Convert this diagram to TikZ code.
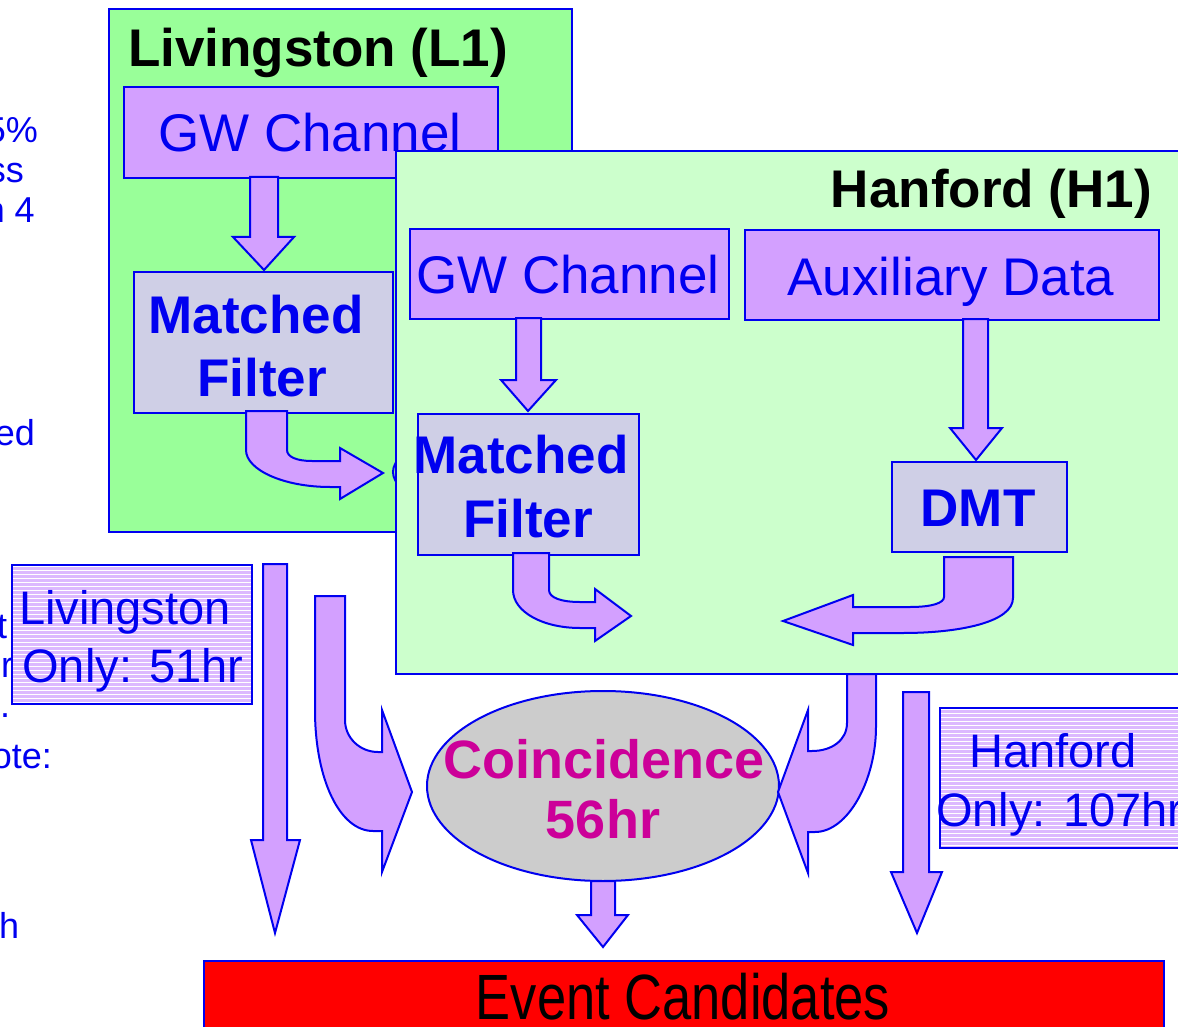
\documentclass[tikz,border=0pt]{standalone}
\usepackage{fontspec}
\setmainfont{Liberation Sans}
\usetikzlibrary{shapes.geometric}
\definecolor{lgreen}{RGB}{153,255,153}
\definecolor{pgreen}{RGB}{204,255,204}
\definecolor{lav}{RGB}{211,160,255}
\definecolor{mfgray}{RGB}{207,207,230}
\definecolor{hatchbg}{RGB}{220,185,255}
\definecolor{coingray}{RGB}{204,204,204}
\definecolor{magen}{RGB}{204,0,153}
\definecolor{myblue}{RGB}{0,0,240}
\tikzset{
  panel/.style={draw=myblue, line width=2pt, anchor=north west, inner sep=0pt},
  procbox/.style={draw=myblue, line width=2pt, fill=lav, anchor=north west, inner sep=0pt},
  mfbox/.style={draw=myblue, line width=2pt, fill=mfgray, anchor=north west, inner sep=0pt},
  blk/.style={fill=lav, draw=myblue, line width=2pt, line join=miter},
  frag/.style={text=myblue, font=\fontsize{36}{40}\selectfont, inner sep=0pt},
  reg/.style={text=myblue, font=\fontsize{53}{60}\selectfont, inner sep=0pt, anchor=base},
  bld/.style={text=myblue, font=\fontsize{53}{60}\selectfont\bfseries, inner sep=0pt, anchor=base},
  ttl/.style={text=black, font=\fontsize{53}{60}\selectfont\bfseries, inner sep=0pt},
  onlyt/.style={text=myblue, font=\fontsize{47}{52}\selectfont, inner sep=0pt, anchor=base},
}
\begin{document}
\begin{tikzpicture}[x=1pt,y=-1pt]
\clip (0,0) rectangle (1178,1027);
\fill[white] (0,0) rectangle (1178,1027);

% left text fragments
\node[frag, anchor=base east] (f1) at (38,143) {5\%};
\node[frag, anchor=base east] (f2) at (24,183) {ss};
\node[frag, anchor=base east] (f3) at (35,223) {n 4};
\node[frag, anchor=base east] (f4) at (35,445) {ed};
\node[frag, anchor=base west] (f5) at (-3,638) {t};
\node[frag, anchor=base west] (f6) at (1,677) {r};
\node[frag, anchor=base west] (f7) at (0,717) {.};
\node[frag, anchor=base east] (f8) at (52,768) {ote:};
\node[frag, anchor=base west] (f9) at (-1,938) {h};

% Livingston panel
\node[panel, fill=lgreen, minimum width=463pt, minimum height=523pt] (lpanel) at (108,8) {};
\node[ttl, anchor=base west] (ltitle) at (128,67) {Livingston (L1)};
\node[procbox, minimum width=374pt, minimum height=91pt] (lgw) at (123,86) {};
\node[reg] (lgwt) at (310,152) {GW Channel};
\draw[blk] (250,177) -- (278,177) -- (278,237) -- (294,237) -- (264,270) -- (233,237) -- (250,237) -- cycle;
\node[mfbox, minimum width=259pt, minimum height=141pt] (lmf) at (133,271) {};
\node[bld] (lmft1) at (256,333) {Matched};
\node[bld] (lmft2) at (262,396) {Filter};
\draw[blk] (246,411) -- (287,411) -- (287,450) .. controls (287,457) and (297,461) .. (312,461) -- (340,461) -- (340,448) -- (383,473) -- (340,499) -- (340,487) -- (330,487) .. controls (284,487) and (246,470) .. (246,450) -- cycle;
\node[ellipse, draw=myblue, line width=2pt, minimum width=60pt, minimum height=44pt] (lhid) at (423,472) {};

% Hanford panel
\node[panel, fill=pgreen, minimum width=800pt, minimum height=523pt] (hpanel) at (395,150) {};
\node[ttl, anchor=base east] (htitle) at (1152,208) {Hanford (H1)};
\node[procbox, minimum width=319pt, minimum height=90pt] (hgw) at (409,228) {};
\node[reg] (hgwt) at (568,293) {GW Channel};
\node[procbox, minimum width=414pt, minimum height=90pt] (haux) at (744,229) {};
\node[reg] (hauxt) at (951,295) {Auxiliary Data};
\draw[blk] (516,318) -- (541,318) -- (541,380) -- (556,380) -- (528,411) -- (501,380) -- (516,380) -- cycle;
\draw[blk] (963,319) -- (988,319) -- (988,428) -- (1002,428) -- (976,460) -- (950,428) -- (963,428) -- cycle;
\node[mfbox, minimum width=221pt, minimum height=141pt] (hmf) at (417,413) {};
\node[bld] (hmft1) at (521,473) {Matched};
\node[bld] (hmft2) at (528,537) {Filter};
\node[mfbox, minimum width=175pt, minimum height=90pt] (dmt) at (891,461) {};
\node[bld] (dmtt) at (978,526) {DMT};
\draw[blk] (513,553) -- (549,553) -- (549,590) .. controls (549,598) and (562,602) .. (580,602) -- (595,602) -- (595,589) -- (631,616) -- (595,641) -- (595,628) -- (580,628) .. controls (543,628) and (513,612) .. (513,590) -- cycle;
\draw[blk] (944,557) -- (1013,557) -- (1013,598) .. controls (1013,622) and (960,633) .. (903,633) -- (853,633) -- (853,645) -- (783,621) -- (853,595) -- (853,607) -- (910,607) .. controls (932,607) and (944,603) .. (944,597) -- cycle;

% hatched boxes
\begin{scope}
\clip (11,564) rectangle (251,703);
\fill[hatchbg] (11,564) rectangle (251,703);
\foreach \yy in {566,570,...,702} \draw[white, line width=0.9pt] (11,\yy) -- (251,\yy);
\end{scope}
\node[panel, minimum width=240pt, minimum height=139pt] (lonly) at (11,564) {};
\node[onlyt] (lonlyt1) at (125,624) {Livingston};
\node[onlyt] (lonlyt2) at (133,682) {Only: 51hr};

\begin{scope}
\clip (939,707) rectangle (1200,847);
\fill[hatchbg] (939,707) rectangle (1200,847);
\foreach \yy in {709,713,...,846} \draw[white, line width=0.9pt] (939,\yy) -- (1200,\yy);
\end{scope}
\node[panel, minimum width=261pt, minimum height=140pt] (honly) at (939,707) {};
\node[onlyt] (honlyt1) at (1053,767) {Hanford};
\node[onlyt, anchor=base west] (honlyt2) at (936,826) {Only: 107hr};

% coincidence
\node[ellipse, draw=myblue, line width=2pt, fill=coingray, minimum width=352pt, minimum height=190pt, inner sep=0pt] (coinc) at (603,786) {};
\node[bld, text=magen, font=\fontsize{54}{60}\selectfont\bfseries] (coinct1) at (604,778) {Coincidence};
\node[bld, text=magen, font=\fontsize{54}{60}\selectfont\bfseries] (coinct2) at (603,838) {56hr};

% arrows below
\draw[blk] (263,564) -- (287,564) -- (287,840) -- (300,840) -- (275,933) -- (251,840) -- (263,840) -- cycle;
\draw[blk] (315,596) -- (345,596) -- (345,720) .. controls (345,738) and (360,752) .. (378,752) -- (382,752) -- (382,710) -- (412,792) -- (382,872) -- (382,831) -- (373,831) .. controls (340,831) and (315,780) .. (315,710) -- cycle;
\draw[blk] (847,674) -- (876,674) -- (876,727) .. controls (876,780) and (848,832) .. (815,832) -- (808,832) -- (808,873) -- (778,792) -- (808,710) -- (808,751) -- (812,751) .. controls (832,751) and (847,740) .. (847,723) -- cycle;
\draw[blk] (903,692) -- (929,692) -- (929,872) -- (942,872) -- (917,933) -- (891,872) -- (903,872) -- cycle;
\draw[blk] (591,881) -- (615,881) -- (615,915) -- (628,915) -- (603,947) -- (577,915) -- (591,915) -- cycle;

% event candidates
\node[panel, fill=red, line width=1.5pt, minimum width=960pt, minimum height=80pt] (event) at (203,960) {};
\node[text=black, inner sep=0pt, anchor=base] (eventt) at (683,1019) {\scalebox{0.82}[1]{\fontsize{64}{70}\selectfont Event Candidates}};
\end{tikzpicture}
\end{document}
